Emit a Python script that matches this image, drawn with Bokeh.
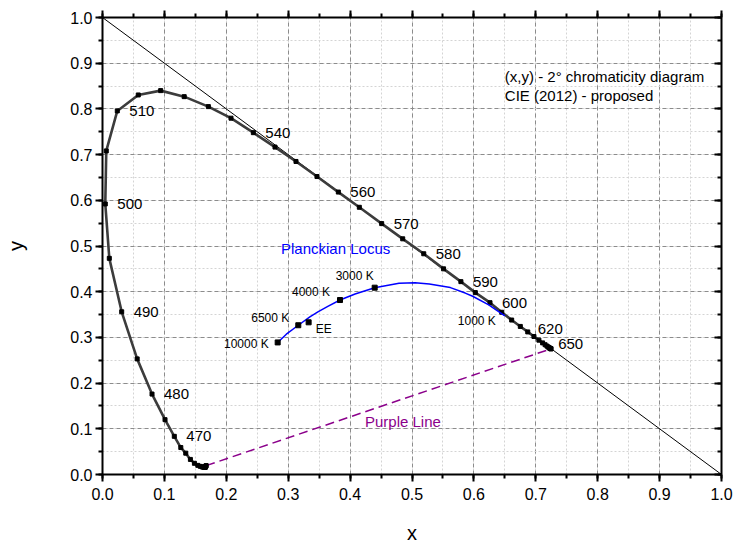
from bokeh.plotting import figure
from bokeh.models import (ColumnDataSource, Range1d, SingleIntervalTicker, LinearAxis,
                          PrintfTickFormatter)
from bokeh.core.properties import value
from bokeh.embed import file_html
from bokeh.resources import INLINE

FONT = "Liberation Sans"

# ---- spectral locus (CIE 2012 2°), 5 nm steps ----
wavelength = [390, 395, 400, 405, 410, 415, 420, 425, 430, 435, 440, 445, 450, 455, 460,
              465, 470, 475, 480, 485, 490, 495, 500, 505, 510, 515, 520, 525, 530, 535,
              540, 545, 550, 555, 560, 565, 570, 575, 580, 585, 590, 595, 600, 605, 610,
              615, 620, 625, 630, 635, 640, 645, 650, 655, 660, 670, 680, 690, 700]
locus_x = [0.1675, 0.1670, 0.1665, 0.1663, 0.1661, 0.1659, 0.1654, 0.1645, 0.1632, 0.1610,
           0.1580, 0.1540, 0.1485, 0.1420, 0.1345, 0.1265, 0.1160, 0.1010, 0.0800, 0.0560,
           0.0310, 0.0110, 0.0045, 0.0061, 0.0239, 0.0578, 0.0940, 0.1320, 0.1710, 0.2076,
           0.2437, 0.2787, 0.3126, 0.3465, 0.3810, 0.4149, 0.4510, 0.4850, 0.5190, 0.5510,
           0.5790, 0.6023, 0.6260, 0.6450, 0.6610, 0.6750, 0.6870, 0.6970, 0.7050, 0.7110,
           0.7150, 0.7180, 0.7200, 0.7215, 0.7225, 0.7235, 0.7240, 0.7243, 0.7245]
locus_y = [0.0195, 0.0185, 0.0175, 0.0168, 0.0163, 0.0160, 0.0158, 0.0158, 0.0160, 0.0166,
           0.0178, 0.0200, 0.0245, 0.0330, 0.0467, 0.0590, 0.0835, 0.1200, 0.1760, 0.2530,
           0.3560, 0.4730, 0.5920, 0.7080, 0.7956, 0.8305, 0.8400, 0.8268, 0.8050, 0.7797,
           0.7480, 0.7164, 0.6850, 0.6520, 0.6180, 0.5847, 0.5490, 0.5157, 0.4830, 0.4500,
           0.4220, 0.3980, 0.3760, 0.3550, 0.3380, 0.3240, 0.3120, 0.3020, 0.2940, 0.2880,
           0.2840, 0.2810, 0.2790, 0.2775, 0.2765, 0.2758, 0.2755, 0.2752, 0.2750]
labelled_nm = [470, 480, 490, 500, 510, 540, 560, 570, 580, 590, 600]
labelled_nm_b = [620, 650]

# ---- Planckian locus ----
planck_T = [1000, 1200, 1400, 1500, 1700, 2000, 2200, 2500, 3000, 3500, 4000, 4500, 5000,
            5500, 6500, 8000, 10000]
planck_x = [0.650, 0.624, 0.598, 0.586, 0.562, 0.528, 0.505, 0.479, 0.4397, 0.408, 0.3837,
            0.364, 0.348, 0.335, 0.3163, 0.297, 0.283]
planck_y = [0.347, 0.371, 0.390, 0.397, 0.409, 0.417, 0.4197, 0.4185, 0.4088, 0.395, 0.3818,
            0.368, 0.356, 0.345, 0.3266, 0.307, 0.289]
marked_T = [3000, 4000, 6500, 10000]
labelled_T = [10000, 6500, 4000, 3000, 1000]
labels_T = ["10000 K", "6500 K", "4000 K", "3000 K", "1000 K"]
ee_x = [0.333]
ee_y = [0.333]

# x + y = 1 line
diag_x = [0.0, 1.0]
diag_y = [1.0, 0.0]

p = figure(width=733, height=546, output_backend="svg", toolbar_location=None,
           x_range=Range1d(0, 1), y_range=Range1d(0, 1),
           min_border_left=102, min_border_right=12, min_border_top=17, min_border_bottom=70,
           x_axis_label="x", y_axis_label="y")
p.outline_line_color = None
p.background_fill_color = "white"
p.border_fill_color = "white"

for ax in [p.xaxis[0], p.yaxis[0]]:
    ax.ticker = SingleIntervalTicker(interval=0.1, num_minor_ticks=2)
    ax.formatter = PrintfTickFormatter(format="%.1f")
    ax.axis_line_width = 2
    ax.major_tick_line_width = 2
    ax.minor_tick_line_width = 2
    ax.major_tick_out = 7
    ax.major_tick_in = 0
    ax.minor_tick_out = 4
    ax.minor_tick_in = 0
    ax.major_label_text_font = FONT
    ax.major_label_text_font_size = "16px"
    ax.major_label_text_color = "black"
    ax.axis_label_text_font = FONT
    ax.axis_label_text_font_size = "20px"
    ax.axis_label_text_font_style = "normal"
    ax.axis_label_text_color = "black"
p.xaxis.major_label_standoff = 6
p.xaxis.axis_label_standoff = 19
p.yaxis.major_label_standoff = 3
p.yaxis.axis_label_standoff = 40

top = LinearAxis(ticker=SingleIntervalTicker(interval=0.1, num_minor_ticks=2),
                 major_label_text_font_size="1px", major_label_text_color=None,
                 axis_line_width=2,
                 major_tick_line_width=2, minor_tick_line_width=2,
                 major_tick_out=7, major_tick_in=0, minor_tick_out=4, minor_tick_in=0,
                 major_label_standoff=0)
right = LinearAxis(ticker=SingleIntervalTicker(interval=0.1, num_minor_ticks=2),
                   major_label_text_font_size="1px", major_label_text_color=None,
                   axis_line_width=2,
                   major_tick_line_width=2, minor_tick_line_width=2,
                   major_tick_out=0, major_tick_in=7, minor_tick_out=0, minor_tick_in=4,
                   major_label_standoff=0)
p.add_layout(top, "above")
p.add_layout(right, "right")

for g in [p.xgrid[0], p.ygrid[0]]:
    g.ticker = SingleIntervalTicker(interval=0.1, num_minor_ticks=2)
    g.grid_line_color = "#8c8c8c"
    g.grid_line_dash = "4 3"
    g.grid_line_width = 1
    g.minor_grid_line_color = "#d4d4d4"
    g.minor_grid_line_dash = "2 2"
    g.minor_grid_line_width = 1

# diagonal x + y = 1
p.line(diag_x, diag_y, line_color="black", line_width=1)

# purple line between the ends of the locus
p.line([locus_x[0], locus_x[-1]], [locus_y[0], locus_y[-1]], line_color="#8b008b",
       line_width=1.5, line_dash="9 5")

# spectral locus
p.line(locus_x, locus_y, line_color="#3c3c3c", line_width=2.6, line_join="round")
p.scatter(locus_x, locus_y, marker="square", size=4, color="black")

# Planckian locus
p.line(planck_x, planck_y, line_color="#0000ff", line_width=1.5, line_join="round")
mk = [planck_T.index(t) for t in marked_T]
p.scatter([planck_x[i] for i in mk], [planck_y[i] for i in mk], marker="square", size=5,
          color="black")
p.scatter(ee_x, ee_y, marker="square", size=5, color="black")

# wavelength labels
ia = [wavelength.index(w) for w in labelled_nm]
p.text([locus_x[i] for i in ia], [locus_y[i] for i in ia], text=[str(w) for w in labelled_nm],
       x_offset=12, y_offset=0, text_font=value(FONT), text_font_size="15px",
       text_baseline="middle", text_align="left", text_color="black")
ib = [wavelength.index(w) for w in labelled_nm_b]
p.text([locus_x[i] for i in ib], [locus_y[i] for i in ib], text=[str(w) for w in labelled_nm_b],
       x_offset=10, y_offset=-3, text_font=value(FONT), text_font_size="15px",
       text_baseline="middle", text_align="left", text_color="black")

# temperature labels
it = [planck_T.index(t) for t in labelled_T]
tsrc = ColumnDataSource(dict(
    x=[planck_x[i] for i in it], y=[planck_y[i] for i in it], t=labels_T,
    dx=[-9, -9, -10, -20, -9], dy=[2, -7, -8, -12, 5],
    al=["right", "right", "right", "center", "right"]))
p.text("x", "y", text="t", x_offset="dx", y_offset="dy", text_align="al", source=tsrc,
       text_font=value(FONT), text_font_size="12px", text_baseline="middle",
       text_color="black")
p.text(ee_x, ee_y, text=["EE"], x_offset=7, y_offset=7, text_font=value(FONT),
       text_font_size="12px", text_baseline="middle", text_align="left", text_color="black")

# annotations
p.text([0.2884], [0.4946], text=["Planckian Locus"], text_font=value(FONT),
       text_font_size="15px", text_baseline="middle", text_align="left", text_color="#0000ff")
p.text([0.424], [0.117], text=["Purple Line"], text_font=value(FONT),
       text_font_size="15px", text_baseline="middle", text_align="left", text_color="#8b008b")
p.text([0.650, 0.650], [0.870, 0.829],
       text=["(x,y) - 2° chromaticity diagram", "CIE (2012) - proposed"],
       text_font=value(FONT), text_font_size="15px", text_baseline="middle",
       text_align="left", text_color="black")

open("out.html", "w").write(file_html(p, INLINE))
